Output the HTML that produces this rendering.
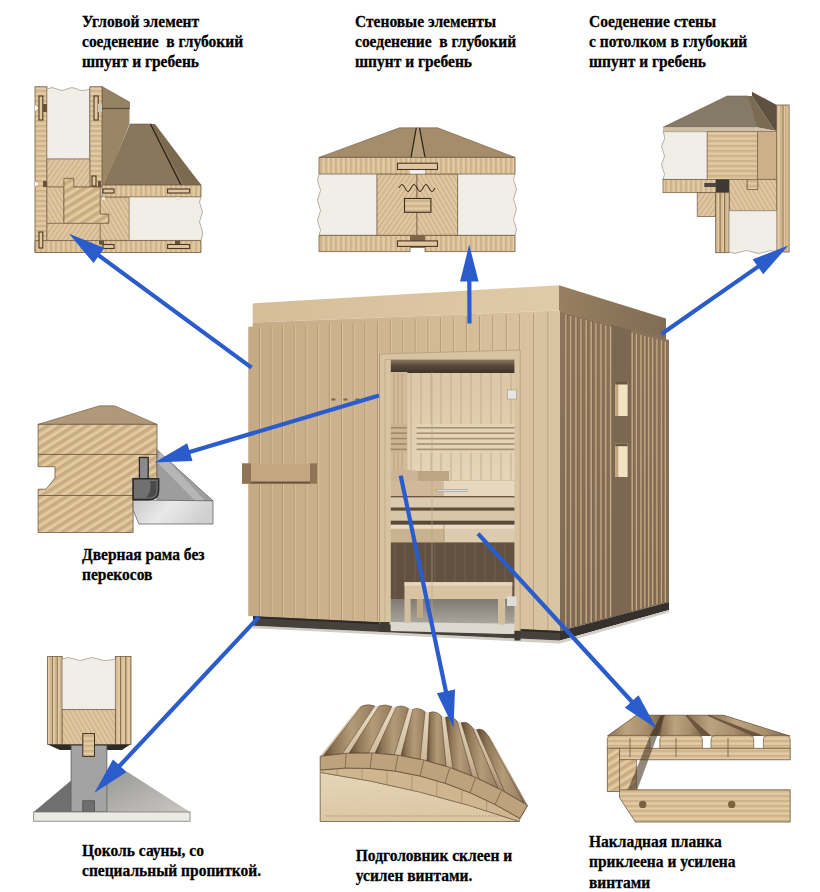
<!DOCTYPE html>
<html><head><meta charset="utf-8"><style>
html,body{margin:0;padding:0;background:#fff;}
body{width:820px;height:892px;overflow:hidden;}
svg{display:block;}
.t{font-family:"Liberation Serif",serif;font-weight:bold;font-size:15.5px;fill:#000;stroke:#000;stroke-width:0.25px;}
</style></head><body>
<svg width="820" height="892" viewBox="0 0 820 892">
<defs>
<pattern id="wv" width="5" height="10" patternUnits="userSpaceOnUse">
 <rect width="5" height="10" fill="#dac099"/><rect width="1.6" height="10" fill="#ceb188"/><rect x="3" width="1.4" height="10" fill="#e3cca6"/>
</pattern>
<pattern id="wh" width="10" height="5" patternUnits="userSpaceOnUse">
 <rect width="10" height="5" fill="#dac099"/><rect height="1.6" width="10" fill="#ceb188"/><rect y="3" height="1.4" width="10" fill="#e3cca6"/>
</pattern>
<pattern id="wd" width="4" height="4" patternUnits="userSpaceOnUse" patternTransform="rotate(35)">
 <rect width="4" height="4" fill="#dbc19b"/><rect width="1.3" height="4" fill="#cfb28a"/><rect x="2.5" width="1" height="4" fill="#e5cfab"/>
</pattern>
<pattern id="wd2" width="4" height="4" patternUnits="userSpaceOnUse" patternTransform="rotate(-30)">
 <rect width="4" height="4" fill="#dbc19b"/><rect width="1.3" height="4" fill="#cfb28a"/><rect x="2.5" width="1" height="4" fill="#e5cfab"/>
</pattern>
<pattern id="wd3" width="7" height="7" patternUnits="userSpaceOnUse" patternTransform="rotate(58)">
 <rect width="7" height="7" fill="#d6ba90"/><rect width="2.4" height="7" fill="#c8aa7e"/><rect x="4" width="2.2" height="7" fill="#e4cca5"/>
</pattern>
</defs>
<defs><linearGradient id="fwall" x1="0" y1="0" x2="1" y2="0"><stop offset="0" stop-color="#c6aa86"/><stop offset="0.5" stop-color="#d0b793"/><stop offset="1" stop-color="#dac5a2"/></linearGradient>
<linearGradient id="froof" x1="0" y1="0" x2="1" y2="0"><stop offset="0" stop-color="#d5bd99"/><stop offset="1" stop-color="#e0cba8"/></linearGradient>
<linearGradient id="sroof" x1="0" y1="0" x2="1" y2="0"><stop offset="0" stop-color="#97805f"/><stop offset="1" stop-color="#806c55"/></linearGradient>
<linearGradient id="swall" x1="0" y1="0" x2="0" y2="1"><stop offset="0" stop-color="#8c755b"/><stop offset="1" stop-color="#7f6a54"/></linearGradient>
<linearGradient id="ceil" x1="0" y1="0" x2="0" y2="1"><stop offset="0" stop-color="#8c7862"/><stop offset="0.45" stop-color="#5a4a3c"/><stop offset="1" stop-color="#3d3329"/></linearGradient>
<linearGradient id="bwall" x1="0" y1="0" x2="0" y2="1"><stop offset="0" stop-color="#dcc7a6"/><stop offset="1" stop-color="#e6d5b9"/></linearGradient>
</defs>
<polygon points="252.7,303.4 559.0,285.2 559.0,310.5 252.7,322.5" fill="url(#froof)" />
<polygon points="559.0,285.2 666.0,318.5 666.0,340.0 559.0,311.0" fill="url(#sroof)" />
<polygon points="560.0,311.0 669.0,340.0 669.0,602.0 560.0,631.0" fill="url(#swall)" />
<polygon points="611.5,324.8 631.5,330.2 631.5,612.0 611.5,617.3" fill="#7b6752" />
<line x1="565.9" y1="314.6" x2="565.9" y2="628.4" stroke="#c4a883" stroke-width="1.5" />
<line x1="567.2" y1="314.6" x2="567.2" y2="628.4" stroke="#78604a" stroke-width="0.5" />
<line x1="570.7" y1="315.9" x2="570.7" y2="627.2" stroke="#c4a883" stroke-width="1.5" />
<line x1="572.0" y1="315.9" x2="572.0" y2="627.2" stroke="#78604a" stroke-width="0.5" />
<line x1="576.0" y1="317.3" x2="576.0" y2="625.7" stroke="#c4a883" stroke-width="1.5" />
<line x1="577.3" y1="317.3" x2="577.3" y2="625.7" stroke="#78604a" stroke-width="0.5" />
<line x1="581.0" y1="318.7" x2="581.0" y2="624.4" stroke="#c4a883" stroke-width="1.5" />
<line x1="582.3" y1="318.7" x2="582.3" y2="624.4" stroke="#78604a" stroke-width="0.5" />
<line x1="586.3" y1="320.1" x2="586.3" y2="623.0" stroke="#c4a883" stroke-width="1.5" />
<line x1="587.6" y1="320.1" x2="587.6" y2="623.0" stroke="#78604a" stroke-width="0.5" />
<line x1="591.2" y1="321.4" x2="591.2" y2="621.7" stroke="#c4a883" stroke-width="1.5" />
<line x1="592.5" y1="321.4" x2="592.5" y2="621.7" stroke="#78604a" stroke-width="0.5" />
<line x1="596.0" y1="322.7" x2="596.0" y2="620.4" stroke="#c4a883" stroke-width="1.5" />
<line x1="597.3" y1="322.7" x2="597.3" y2="620.4" stroke="#78604a" stroke-width="0.5" />
<line x1="601.0" y1="324.1" x2="601.0" y2="619.1" stroke="#c4a883" stroke-width="1.5" />
<line x1="602.3" y1="324.1" x2="602.3" y2="619.1" stroke="#78604a" stroke-width="0.5" />
<line x1="605.9" y1="325.4" x2="605.9" y2="617.8" stroke="#c4a883" stroke-width="1.5" />
<line x1="607.2" y1="325.4" x2="607.2" y2="617.8" stroke="#78604a" stroke-width="0.5" />
<line x1="610.7" y1="326.7" x2="610.7" y2="616.5" stroke="#c4a883" stroke-width="1.5" />
<line x1="612.0" y1="326.7" x2="612.0" y2="616.5" stroke="#78604a" stroke-width="0.5" />
<line x1="632.2" y1="332.5" x2="632.2" y2="610.8" stroke="#c4a883" stroke-width="1.5" />
<line x1="633.5" y1="332.5" x2="633.5" y2="610.8" stroke="#78604a" stroke-width="0.5" />
<line x1="636.5" y1="333.7" x2="636.5" y2="609.7" stroke="#c4a883" stroke-width="1.5" />
<line x1="637.8" y1="333.7" x2="637.8" y2="609.7" stroke="#78604a" stroke-width="0.5" />
<line x1="641.0" y1="334.9" x2="641.0" y2="608.5" stroke="#c4a883" stroke-width="1.5" />
<line x1="642.3" y1="334.9" x2="642.3" y2="608.5" stroke="#78604a" stroke-width="0.5" />
<line x1="644.9" y1="335.9" x2="644.9" y2="607.4" stroke="#c4a883" stroke-width="1.5" />
<line x1="646.2" y1="335.9" x2="646.2" y2="607.4" stroke="#78604a" stroke-width="0.5" />
<line x1="648.8" y1="337.0" x2="648.8" y2="606.4" stroke="#c4a883" stroke-width="1.5" />
<line x1="650.1" y1="337.0" x2="650.1" y2="606.4" stroke="#78604a" stroke-width="0.5" />
<line x1="652.7" y1="338.0" x2="652.7" y2="605.3" stroke="#c4a883" stroke-width="1.5" />
<line x1="654.0" y1="338.0" x2="654.0" y2="605.3" stroke="#78604a" stroke-width="0.5" />
<line x1="657.0" y1="339.2" x2="657.0" y2="604.2" stroke="#c4a883" stroke-width="1.5" />
<line x1="658.3" y1="339.2" x2="658.3" y2="604.2" stroke="#78604a" stroke-width="0.5" />
<line x1="661.5" y1="340.4" x2="661.5" y2="603.0" stroke="#c4a883" stroke-width="1.5" />
<line x1="662.8" y1="340.4" x2="662.8" y2="603.0" stroke="#78604a" stroke-width="0.5" />
<line x1="665.4" y1="341.5" x2="665.4" y2="602.0" stroke="#c4a883" stroke-width="1.5" />
<line x1="666.7" y1="341.5" x2="666.7" y2="602.0" stroke="#78604a" stroke-width="0.5" />
<rect x="615.3" y="382.0" width="12.3" height="34.0" fill="#f1e2c4" />
<rect x="615.3" y="382.0" width="3.0" height="34.0" fill="#c4a57e" />
<rect x="615.3" y="382.0" width="12.3" height="2.5" fill="#6b563f" />
<rect x="615.3" y="443.7" width="12.3" height="33.3" fill="#f1e2c4" />
<rect x="615.3" y="443.7" width="3.0" height="33.3" fill="#c4a57e" />
<rect x="615.3" y="443.7" width="12.3" height="2.5" fill="#6b563f" />
<polygon points="560.0,631.0 669.0,602.0 669.0,610.0 560.0,640.6" fill="#36312c" />
<polygon points="248.2,326.8 252.7,326.6 252.7,322.5 559.0,310.5 560.0,311.0 560.0,631.0 248.2,616.0" fill="url(#fwall)" />
<line x1="259.5" y1="327.2" x2="259.5" y2="616.5" stroke="#b0936d" stroke-width="0.9" />
<line x1="260.5" y1="327.2" x2="260.5" y2="616.5" stroke="#e2cdaa" stroke-width="0.7" />
<line x1="271.2" y1="326.6" x2="271.2" y2="617.1" stroke="#b0936d" stroke-width="0.9" />
<line x1="272.2" y1="326.6" x2="272.2" y2="617.1" stroke="#e2cdaa" stroke-width="0.7" />
<line x1="282.5" y1="326.1" x2="282.5" y2="617.7" stroke="#b0936d" stroke-width="0.9" />
<line x1="283.5" y1="326.1" x2="283.5" y2="617.7" stroke="#e2cdaa" stroke-width="0.7" />
<line x1="294.2" y1="325.5" x2="294.2" y2="618.2" stroke="#b0936d" stroke-width="0.9" />
<line x1="295.2" y1="325.5" x2="295.2" y2="618.2" stroke="#e2cdaa" stroke-width="0.7" />
<line x1="306.0" y1="324.9" x2="306.0" y2="618.8" stroke="#b0936d" stroke-width="0.9" />
<line x1="307.0" y1="324.9" x2="307.0" y2="618.8" stroke="#e2cdaa" stroke-width="0.7" />
<line x1="317.7" y1="324.3" x2="317.7" y2="619.3" stroke="#b0936d" stroke-width="0.9" />
<line x1="318.7" y1="324.3" x2="318.7" y2="619.3" stroke="#e2cdaa" stroke-width="0.7" />
<line x1="329.4" y1="323.7" x2="329.4" y2="619.9" stroke="#b0936d" stroke-width="0.9" />
<line x1="330.4" y1="323.7" x2="330.4" y2="619.9" stroke="#e2cdaa" stroke-width="0.7" />
<line x1="341.5" y1="323.1" x2="341.5" y2="620.5" stroke="#b0936d" stroke-width="0.9" />
<line x1="342.5" y1="323.1" x2="342.5" y2="620.5" stroke="#e2cdaa" stroke-width="0.7" />
<line x1="353.2" y1="322.5" x2="353.2" y2="621.1" stroke="#b0936d" stroke-width="0.9" />
<line x1="354.2" y1="322.5" x2="354.2" y2="621.1" stroke="#e2cdaa" stroke-width="0.7" />
<line x1="364.9" y1="321.9" x2="364.9" y2="621.6" stroke="#b0936d" stroke-width="0.9" />
<line x1="365.9" y1="321.9" x2="365.9" y2="621.6" stroke="#e2cdaa" stroke-width="0.7" />
<line x1="377.6" y1="321.2" x2="377.6" y2="622.2" stroke="#b0936d" stroke-width="0.9" />
<line x1="378.6" y1="321.2" x2="378.6" y2="622.2" stroke="#e2cdaa" stroke-width="0.7" />
<line x1="390.3" y1="320.6" x2="390.3" y2="622.8" stroke="#b0936d" stroke-width="0.9" />
<line x1="391.3" y1="320.6" x2="391.3" y2="622.8" stroke="#e2cdaa" stroke-width="0.7" />
<line x1="402.7" y1="320.0" x2="402.7" y2="623.4" stroke="#b0936d" stroke-width="0.9" />
<line x1="403.7" y1="320.0" x2="403.7" y2="623.4" stroke="#e2cdaa" stroke-width="0.7" />
<line x1="415.2" y1="319.3" x2="415.2" y2="624.0" stroke="#b0936d" stroke-width="0.9" />
<line x1="416.2" y1="319.3" x2="416.2" y2="624.0" stroke="#e2cdaa" stroke-width="0.7" />
<line x1="428.0" y1="318.7" x2="428.0" y2="624.6" stroke="#b0936d" stroke-width="0.9" />
<line x1="429.0" y1="318.7" x2="429.0" y2="624.6" stroke="#e2cdaa" stroke-width="0.7" />
<line x1="440.7" y1="318.0" x2="440.7" y2="625.3" stroke="#b0936d" stroke-width="0.9" />
<line x1="441.7" y1="318.0" x2="441.7" y2="625.3" stroke="#e2cdaa" stroke-width="0.7" />
<line x1="453.7" y1="317.4" x2="453.7" y2="625.9" stroke="#b0936d" stroke-width="0.9" />
<line x1="454.7" y1="317.4" x2="454.7" y2="625.9" stroke="#e2cdaa" stroke-width="0.7" />
<line x1="466.4" y1="316.7" x2="466.4" y2="626.5" stroke="#b0936d" stroke-width="0.9" />
<line x1="467.4" y1="316.7" x2="467.4" y2="626.5" stroke="#e2cdaa" stroke-width="0.7" />
<line x1="479.6" y1="316.1" x2="479.6" y2="627.1" stroke="#b0936d" stroke-width="0.9" />
<line x1="480.6" y1="316.1" x2="480.6" y2="627.1" stroke="#e2cdaa" stroke-width="0.7" />
<line x1="492.8" y1="315.4" x2="492.8" y2="627.8" stroke="#b0936d" stroke-width="0.9" />
<line x1="493.8" y1="315.4" x2="493.8" y2="627.8" stroke="#e2cdaa" stroke-width="0.7" />
<line x1="506.3" y1="314.7" x2="506.3" y2="628.4" stroke="#b0936d" stroke-width="0.9" />
<line x1="507.3" y1="314.7" x2="507.3" y2="628.4" stroke="#e2cdaa" stroke-width="0.7" />
<line x1="519.7" y1="314.0" x2="519.7" y2="629.1" stroke="#b0936d" stroke-width="0.9" />
<line x1="520.7" y1="314.0" x2="520.7" y2="629.1" stroke="#e2cdaa" stroke-width="0.7" />
<line x1="533.6" y1="313.3" x2="533.6" y2="629.7" stroke="#b0936d" stroke-width="0.9" />
<line x1="534.6" y1="313.3" x2="534.6" y2="629.7" stroke="#e2cdaa" stroke-width="0.7" />
<line x1="548.0" y1="312.6" x2="548.0" y2="630.4" stroke="#b0936d" stroke-width="0.9" />
<line x1="549.0" y1="312.6" x2="549.0" y2="630.4" stroke="#e2cdaa" stroke-width="0.7" />
<rect x="331.4" y="398.5" width="4.0" height="2.0" fill="#7d6446" />
<rect x="343.4" y="398.5" width="4.0" height="2.0" fill="#7d6446" />
<rect x="355.4" y="398.5" width="4.0" height="2.0" fill="#7d6446" />
<polygon points="253.0,625.6 560.0,640.6 669.0,610.0 669.0,612.5 560.0,643.5 253.0,628.3" fill="#d2cec6" />
<polygon points="253.0,616.2 560.0,631.0 560.0,640.6 253.0,625.6" fill="#46413b" />
<polygon points="253.0,616.2 560.0,631.0 560.0,633.0 253.0,618.2" fill="#2e2a26" />
<polygon points="379.5,354.0 520.2,350.0 520.2,631.5 379.5,624.0" fill="#d9c4a2" />
<line x1="379.5" y1="354.0" x2="520.2" y2="350.0" stroke="#b89d78" stroke-width="0.8" />
<line x1="379.5" y1="354.0" x2="379.5" y2="624.0" stroke="#a8906c" stroke-width="0.8" />
<line x1="520.2" y1="350.0" x2="520.2" y2="631.0" stroke="#b59a75" stroke-width="0.8" />
<polygon points="390.8,357.6 514.4,357.6 514.4,634.0 390.8,630.0" fill="#d6c2a0" />
<rect x="390.8" y="359.5" width="123.6" height="13.5" fill="url(#ceil)" />
<rect x="407.4" y="373.0" width="107.0" height="107.0" fill="url(#bwall)" />
<line x1="385.0" y1="359.5" x2="514.4" y2="359.5" stroke="#bba482" stroke-width="0.8" />
<line x1="385.0" y1="359.5" x2="385.0" y2="624.0" stroke="#bba482" stroke-width="0.8" />
<line x1="411.0" y1="373.0" x2="411.0" y2="480.0" stroke="#c2aa86" stroke-width="0.9" />
<line x1="421.0" y1="373.0" x2="421.0" y2="480.0" stroke="#c2aa86" stroke-width="0.9" />
<line x1="431.0" y1="373.0" x2="431.0" y2="480.0" stroke="#c2aa86" stroke-width="0.9" />
<line x1="441.0" y1="373.0" x2="441.0" y2="480.0" stroke="#c2aa86" stroke-width="0.9" />
<line x1="451.0" y1="373.0" x2="451.0" y2="480.0" stroke="#c2aa86" stroke-width="0.9" />
<line x1="461.0" y1="373.0" x2="461.0" y2="480.0" stroke="#c2aa86" stroke-width="0.9" />
<line x1="471.0" y1="373.0" x2="471.0" y2="480.0" stroke="#c2aa86" stroke-width="0.9" />
<line x1="481.0" y1="373.0" x2="481.0" y2="480.0" stroke="#c2aa86" stroke-width="0.9" />
<line x1="491.0" y1="373.0" x2="491.0" y2="480.0" stroke="#c2aa86" stroke-width="0.9" />
<line x1="501.0" y1="373.0" x2="501.0" y2="480.0" stroke="#c2aa86" stroke-width="0.9" />
<line x1="511.0" y1="373.0" x2="511.0" y2="480.0" stroke="#c2aa86" stroke-width="0.9" />
<rect x="390.8" y="372.0" width="16.6" height="108.0" fill="#d2bb98" />
<line x1="394.0" y1="373.0" x2="394.0" y2="480.0" stroke="#b59c78" stroke-width="0.7" />
<line x1="398.0" y1="373.0" x2="398.0" y2="480.0" stroke="#b59c78" stroke-width="0.7" />
<line x1="402.0" y1="373.0" x2="402.0" y2="480.0" stroke="#b59c78" stroke-width="0.7" />
<rect x="416.6" y="424.0" width="97.8" height="29.0" fill="#e4d3b6" />
<rect x="416.6" y="427.0" width="97.8" height="1.6" fill="#a99070" />
<rect x="416.6" y="432.4" width="97.8" height="1.6" fill="#a99070" />
<rect x="416.6" y="437.8" width="97.8" height="1.6" fill="#a99070" />
<rect x="416.6" y="443.2" width="97.8" height="1.6" fill="#a99070" />
<rect x="416.6" y="448.6" width="97.8" height="1.6" fill="#a99070" />
<rect x="390.8" y="424.0" width="16.0" height="29.0" fill="#ccb491" />
<rect x="390.8" y="427.0" width="16.0" height="1.5" fill="#9e8666" />
<rect x="390.8" y="432.4" width="16.0" height="1.5" fill="#9e8666" />
<rect x="390.8" y="437.8" width="16.0" height="1.5" fill="#9e8666" />
<rect x="390.8" y="443.2" width="16.0" height="1.5" fill="#9e8666" />
<rect x="390.8" y="448.6" width="16.0" height="1.5" fill="#9e8666" />
<rect x="507.5" y="390.0" width="9.0" height="9.0" fill="#e8e6e2" stroke="#9a9890" stroke-width="0.6" />
<path d="M390.8,481 L390.8,470 Q400,468 418,471 L449,472 L449,481 Z" fill="#cbb594"/>
<rect x="418.0" y="471.0" width="31.0" height="10.0" fill="#bca582" />
<rect x="390.8" y="481.0" width="123.6" height="15.0" fill="#e6d8bf" />
<rect x="390.8" y="481.0" width="53.0" height="15.0" fill="#cfb998" />
<rect x="390.8" y="496.0" width="123.6" height="1.6" fill="#6a5846" />
<rect x="390.8" y="497.6" width="123.6" height="9.9" fill="#dccbb0" />
<rect x="390.8" y="507.5" width="123.6" height="3.3" fill="#5e4e3e" />
<rect x="390.8" y="510.8" width="123.6" height="9.9" fill="#d8c6a9" />
<rect x="390.8" y="520.7" width="123.6" height="4.1" fill="#5a4a3b" />
<rect x="390.8" y="524.8" width="123.6" height="4.1" fill="#eadcc4" />
<rect x="390.8" y="528.9" width="123.6" height="13.5" fill="#dccbae" />
<rect x="390.8" y="528.9" width="53.0" height="13.5" fill="#c8b28f" />
<line x1="444.0" y1="524.8" x2="444.0" y2="542.4" stroke="#a58d6c" stroke-width="0.8" />
<rect x="436.9" y="489.3" width="30.4" height="2.4" fill="#dcdcdc" stroke="#8a8a8a" stroke-width="0.5" />
<rect x="390.8" y="542.4" width="123.6" height="57.0" fill="#625140" />
<line x1="395.0" y1="543.0" x2="395.0" y2="598.0" stroke="#76624e" stroke-width="0.9" />
<line x1="405.0" y1="543.0" x2="405.0" y2="598.0" stroke="#76624e" stroke-width="0.9" />
<line x1="415.0" y1="543.0" x2="415.0" y2="598.0" stroke="#76624e" stroke-width="0.9" />
<line x1="425.0" y1="543.0" x2="425.0" y2="598.0" stroke="#76624e" stroke-width="0.9" />
<line x1="435.0" y1="543.0" x2="435.0" y2="598.0" stroke="#76624e" stroke-width="0.9" />
<line x1="445.0" y1="543.0" x2="445.0" y2="598.0" stroke="#76624e" stroke-width="0.9" />
<line x1="455.0" y1="543.0" x2="455.0" y2="598.0" stroke="#76624e" stroke-width="0.9" />
<line x1="465.0" y1="543.0" x2="465.0" y2="598.0" stroke="#76624e" stroke-width="0.9" />
<line x1="475.0" y1="543.0" x2="475.0" y2="598.0" stroke="#76624e" stroke-width="0.9" />
<line x1="485.0" y1="543.0" x2="485.0" y2="598.0" stroke="#76624e" stroke-width="0.9" />
<line x1="495.0" y1="543.0" x2="495.0" y2="598.0" stroke="#76624e" stroke-width="0.9" />
<line x1="505.0" y1="543.0" x2="505.0" y2="598.0" stroke="#76624e" stroke-width="0.9" />
<defs><linearGradient id="flr" x1="0" y1="0" x2="0" y2="1"><stop offset="0" stop-color="#7f7a73"/><stop offset="1" stop-color="#aaa59d"/></linearGradient></defs>
<rect x="390.8" y="599.0" width="123.6" height="24.7" fill="url(#flr)" />
<polygon points="390.8,622.0 514.4,623.7 514.4,634.0 390.8,631.0" fill="#ddd9d1" />
<rect x="404.5" y="582.2" width="107.8" height="16.8" fill="#d8c4a3" />
<rect x="404.5" y="582.2" width="107.8" height="3.5" fill="#e6d6bb" />
<rect x="404.5" y="599.0" width="6.1" height="23.8" fill="#d3bf9d" />
<rect x="416.8" y="599.0" width="6.2" height="19.0" fill="#bfa987" />
<rect x="498.0" y="599.0" width="7.2" height="25.6" fill="#d3bf9d" />
<rect x="507.0" y="596.3" width="9.7" height="9.7" fill="#e0ddd8" />
<line x1="432.0" y1="372.0" x2="432.0" y2="623.0" stroke="#b8a484" stroke-width="0.6" />
<rect x="379.5" y="622.0" width="10.0" height="10.0" fill="#3f3a34" />
<rect x="514.5" y="630.8" width="6.0" height="9.7" fill="#3f3a34" />
<polygon points="242.0,463.4 317.0,463.4 317.0,483.7 242.0,483.7" fill="#c4a780" />
<rect x="242.0" y="463.4" width="9.0" height="20.3" fill="#8f7456" />
<rect x="310.0" y="463.4" width="7.0" height="20.3" fill="#8f7456" />
<rect x="251.0" y="481.5" width="59.0" height="2.2" fill="#6d573e" />
<polygon points="102.0,86.5 129.5,102.0 129.5,108.5 102.0,108.5" fill="#958264" stroke="#6f5a40" stroke-width="0.6" />
<polygon points="102.0,108.5 129.5,108.5 129.5,124.0 105.0,186.0 102.0,186.0" fill="#9a8565" />
<line x1="102.0" y1="108.5" x2="129.5" y2="108.5" stroke="#5a4a36" stroke-width="1.2" />
<polygon points="130.3,124.0 151.5,124.0 201.0,185.0 105.0,185.0" fill="#8a775b" stroke="#6f5a40" stroke-width="0.6" />
<polygon points="151.5,124.0 155.0,124.0 201.0,185.0 184.0,185.0" fill="#7c6a50" />
<line x1="150.5" y1="124.0" x2="181.0" y2="185.0" stroke="#2d2418" stroke-width="1.4" />
<polygon points="35.0,86.7 47.0,86.7 47.0,252.3 35.0,252.3" fill="url(#wh)" stroke="#6f5a40" stroke-width="0.8" />
<path d="M47,89 q5,-3 10,0 t10,0 t10,0 t12.8,0 L89.8,159 L47,159 Z" fill="#f1eee7" stroke="#8d8170" stroke-width="0.6"/>
<polygon points="89.8,86.7 102.0,86.7 102.0,187.0 89.8,187.0" fill="url(#wh)" stroke="#6f5a40" stroke-width="0.8" />
<polygon points="47.0,159.0 89.8,159.0 89.8,187.0 47.0,187.0" fill="url(#wd)" stroke="#6f5a40" stroke-width="0.6" />
<polygon points="47.0,187.0 63.9,187.0 63.9,223.4 47.0,223.4" fill="url(#wd2)" stroke="#6f5a40" stroke-width="0.6" />
<polygon points="63.9,178.4 73.8,178.4 73.8,187.0 100.3,187.0 100.3,196.9 100.3,214.0 108.9,214.0 108.9,223.4 63.9,223.4" fill="url(#wd3)" stroke="#6f5a40" stroke-width="0.8" />
<polygon points="47.0,223.4 100.3,223.4 100.3,240.6 47.0,240.6" fill="url(#wd)" stroke="#6f5a40" stroke-width="0.6" />
<polygon points="100.3,196.9 129.3,196.9 129.3,240.4 100.3,240.4 100.3,223.4 108.9,223.4 108.9,214.0 100.3,214.0" fill="url(#wd2)" stroke="#6f5a40" stroke-width="0.6" />
<polygon points="102.0,185.0 201.0,185.0 201.0,197.0 102.0,197.0" fill="url(#wv)" stroke="#6f5a40" stroke-width="0.8" />
<path d="M129.3,197 L201,197 q-3,5 0,10 t0,10 t0,10 t0,13.4 L129.3,240.4 Z" fill="#f1eee7" stroke="#8d8170" stroke-width="0.6"/>
<polygon points="35.0,240.6 201.0,240.6 201.0,252.5 35.0,252.5" fill="url(#wv)" stroke="#6f5a40" stroke-width="0.8" />
<rect x="39.0" y="96.0" width="3.8" height="24.0" fill="#e0c7a0" stroke="#4a3725" stroke-width="1.1" />
<rect x="94.0" y="96.0" width="4.2" height="24.0" fill="#e0c7a0" stroke="#4a3725" stroke-width="1.1" />
<rect x="39.0" y="232.0" width="3.8" height="16.0" fill="#e0c7a0" stroke="#4a3725" stroke-width="1.1" />
<rect x="92.0" y="176.0" width="4.0" height="10.0" fill="#e0c7a0" stroke="#4a3725" stroke-width="1.1" />
<polygon points="35.0,105.0 38.5,108.0 35.0,111.0" fill="#ffffff" />
<polygon points="35.0,181.5 38.5,184.0 35.0,186.6" fill="#ffffff" />
<rect x="43.0" y="104.0" width="4.0" height="8.0" fill="#6b5038" />
<rect x="43.0" y="181.0" width="4.0" height="6.0" fill="#6b5038" />
<rect x="98.0" y="104.0" width="4.0" height="8.0" fill="#cfc6b8" />
<rect x="98.0" y="181.0" width="3.0" height="6.0" fill="#6b5038" />
<rect x="99.0" y="240.6" width="5.0" height="4.0" fill="#6b5038" />
<rect x="175.0" y="240.6" width="5.0" height="4.0" fill="#6b5038" />
<rect x="102.0" y="197.0" width="3.0" height="3.0" fill="#e8e4dc" />
<rect x="176.0" y="197.0" width="4.0" height="3.0" fill="#e8e4dc" />
<rect x="167.6" y="189.0" width="22.0" height="4.0" fill="#e0c7a0" stroke="#4a3725" stroke-width="1.1" />
<rect x="103.0" y="189.0" width="11.0" height="4.0" fill="#e0c7a0" stroke="#4a3725" stroke-width="1.1" />
<rect x="167.6" y="244.5" width="22.0" height="4.0" fill="#e0c7a0" stroke="#4a3725" stroke-width="1.1" />
<rect x="103.0" y="244.5" width="11.0" height="4.0" fill="#e0c7a0" stroke="#4a3725" stroke-width="1.1" />
<polygon points="399.5,127.8 437.5,127.8 515.0,157.4 319.0,157.4" fill="#a58c6b" stroke="#6f5a40" stroke-width="0.6" />
<polygon points="416.3,127.8 419.5,127.8 425.0,157.4 411.0,157.4" fill="#b39c7a" />
<line x1="416.3" y1="127.8" x2="411.0" y2="157.4" stroke="#2d2418" stroke-width="1.2" />
<line x1="419.5" y1="127.8" x2="425.0" y2="157.4" stroke="#2d2418" stroke-width="1.2" />
<polygon points="319.0,157.4 515.0,157.4 515.0,174.2 319.0,174.2" fill="url(#wv)" stroke="#6f5a40" stroke-width="0.8" />
<polygon points="410.0,169.5 425.0,169.5 425.0,174.5 410.0,174.5" fill="#f4f2ee" />
<rect x="397.5" y="163.2" width="40.0" height="6.3" fill="#e0c7a0" stroke="#4a3725" stroke-width="1.1" />
<path d="M319,174.2 L377,174.2 L377,235.4 L319,235.4 q3,-5 0,-10 t0,-10 t0,-10 t0,-10 t0,-10 t0,-11.2 Z" fill="#f1eee7" stroke="#8d8170" stroke-width="0.6"/>
<path d="M457.6,174.2 L515,174.2 q-3,5 0,10 t0,10 t0,10 t0,10 t0,10 t0,11.2 L457.6,235.4 Z" fill="#f1eee7" stroke="#8d8170" stroke-width="0.6"/>
<polygon points="377.0,174.2 417.0,174.2 417.0,235.4 377.0,235.4" fill="url(#wd)" stroke="#6f5a40" stroke-width="0.7" />
<polygon points="417.0,174.2 457.6,174.2 457.6,235.4 417.0,235.4" fill="url(#wd2)" stroke="#6f5a40" stroke-width="0.7" />
<path d="M399,188 q3,-7 6,0 t6,0 t6,0 t6,0 t6,0 t6,0" fill="none" stroke="#2a2015" stroke-width="1"/>
<rect x="404.5" y="198.5" width="26.4" height="13.8" fill="url(#wh)" stroke="#3d2f20" stroke-width="1.1" />
<polygon points="319.0,235.4 515.0,235.4 515.0,251.6 425.0,251.6 425.0,247.5 410.0,247.5 410.0,251.6 319.0,251.6" fill="url(#wv)" stroke="#6f5a40" stroke-width="0.8" />
<rect x="410.0" y="235.4" width="15.0" height="5.5" fill="#7d6548" />
<rect x="397.5" y="240.9" width="40.0" height="5.5" fill="#e0c7a0" stroke="#4a3725" stroke-width="1.1" />
<polygon points="727.2,96.0 748.2,96.0 756.7,127.3 663.0,127.3" fill="#857a68" stroke="#6f5a40" stroke-width="0.6" />
<polygon points="748.2,96.0 752.0,96.0 774.8,130.8 756.7,127.3" fill="#7a6a52" />
<polygon points="752.0,91.7 776.7,105.0 776.7,131.0 774.8,130.8 752.0,96.0" fill="#5f5140" />
<polygon points="663.0,127.3 756.7,127.3 756.7,131.7 663.0,131.7" fill="#cfc0a6" />
<rect x="776.7" y="105.0" width="12.4" height="147.0" fill="url(#wv)" stroke="#6f5a40" stroke-width="0.8" />
<polygon points="756.7,127.3 776.7,131.0 776.7,131.7 756.7,131.7" fill="#cfc0a6" />
<line x1="783.0" y1="105.0" x2="783.0" y2="252.0" stroke="#6f5a40" stroke-width="0.8" />
<path d="M663,131.7 L707.2,131.7 L707.2,179.4 L663,179.4 q3,-5 0,-10 t0,-9 t0,-9 t0,-9 t0,-10.7 Z" fill="#f1eee7" stroke="#8d8170" stroke-width="0.6"/>
<rect x="707.2" y="131.7" width="50.5" height="47.7" fill="url(#wh)" stroke="#6f5a40" stroke-width="0.6" />
<rect x="757.7" y="131.7" width="19.0" height="47.7" fill="#cdb08a" stroke="#6f5a40" stroke-width="0.6" />
<polygon points="729.1,179.4 747.2,179.4 747.2,189.5 757.7,189.5 757.7,179.4 776.7,179.4 776.7,210.8 729.1,210.8" fill="url(#wd2)" stroke="#6f5a40" stroke-width="0.7" />
<polygon points="747.2,179.4 757.7,179.4 757.7,189.5 747.2,189.5" fill="url(#wh)" stroke="#6f5a40" stroke-width="0.7" />
<rect x="663.0" y="179.4" width="65.1" height="13.3" fill="url(#wv)" stroke="#6f5a40" stroke-width="0.7" />
<rect x="715.7" y="179.4" width="13.4" height="13.0" fill="#3e3a33" />
<rect x="704.3" y="183.0" width="12.0" height="4.0" fill="#4a4640" />
<rect x="697.2" y="192.7" width="18.5" height="23.8" fill="url(#wd)" stroke="#6f5a40" stroke-width="0.7" />
<rect x="715.7" y="192.7" width="13.4" height="60.0" fill="url(#wv)" stroke="#6f5a40" stroke-width="0.8" />
<line x1="720.0" y1="192.7" x2="720.0" y2="252.6" stroke="#6f5a40" stroke-width="0.8" />
<line x1="724.5" y1="192.7" x2="724.5" y2="252.6" stroke="#6f5a40" stroke-width="0.8" />
<path d="M729.1,210.8 L776.7,210.8 L776.7,252 q-6,-3 -12,0 t-12,0 t-12,0 t-11.6,0 Z" fill="#f1eee7" stroke="#8d8170" stroke-width="0.6"/>
<polygon points="99.5,405.8 114.6,405.8 157.0,424.3 38.1,424.3" fill="#b09978" stroke="#6f5a40" stroke-width="0.6" />
<rect x="38.1" y="424.3" width="118.9" height="30.1" fill="url(#wd3)" stroke="#6f5a40" stroke-width="0.8" />
<polygon points="38.1,454.4 157.0,454.4 157.0,478.8 133.1,478.8 133.1,495.5 38.1,495.5 38.1,489.2 46.0,489.2 55.0,478.0 55.0,466.7 38.1,466.7" fill="url(#wd3)" stroke="#6f5a40" stroke-width="0.8" />
<polygon points="38.1,495.5 133.1,495.5 133.1,532.5 38.1,532.5" fill="url(#wd3)" stroke="#6f5a40" stroke-width="0.8" />
<polygon points="157.0,449.8 213.0,500.8 157.0,500.8" fill="#9d9d9d" stroke="#555" stroke-width="0.6" />
<polygon points="160.0,452.0 205.0,500.8 195.0,500.8 157.0,462.0" fill="#b6b6b6" />
<defs><linearGradient id="alu" x1="0" y1="0" x2="1" y2="0.3"><stop offset="0" stop-color="#c9c9c9"/><stop offset="0.5" stop-color="#e9e9e9"/><stop offset="1" stop-color="#d0d0d0"/></linearGradient></defs>
<polygon points="133.1,500.0 213.0,500.8 213.0,524.0 138.9,524.0 133.1,510.0" fill="url(#alu)" stroke="#555" stroke-width="0.7" />
<rect x="139.4" y="457.5" width="8.8" height="22.0" fill="#8a8a8a" stroke="#2a2a2a" stroke-width="1.3" />
<path d="M133.1,478.8 L158.6,478.8 L158.6,490 Q158.6,499.6 149,499.6 L133.1,499.6 Z" fill="#707070" stroke="#2a2a2a" stroke-width="1.6"/>
<path d="M150,481 L156.5,481 L156.5,490 Q156.5,497.5 149,497.5 L146,497.5 Q152,492 150,481 Z" fill="#4a4a4a"/>
<rect x="47.6" y="656.6" width="14.6" height="88.0" fill="url(#wv)" stroke="#6f5a40" stroke-width="0.8" />
<rect x="115.3" y="656.6" width="15.7" height="88.0" fill="url(#wv)" stroke="#6f5a40" stroke-width="0.8" />
<line x1="52.5" y1="656.6" x2="52.5" y2="744.6" stroke="#6f5a40" stroke-width="0.7" />
<line x1="57.3" y1="656.6" x2="57.3" y2="744.6" stroke="#6f5a40" stroke-width="0.7" />
<line x1="120.5" y1="656.6" x2="120.5" y2="744.6" stroke="#6f5a40" stroke-width="0.7" />
<line x1="125.7" y1="656.6" x2="125.7" y2="744.6" stroke="#6f5a40" stroke-width="0.7" />
<path d="M62.2,659 q6,-3 12,0 t12,0 t12,0 t17.1,0 L115.3,709.6 L62.2,709.6 Z" fill="#f1eee7" stroke="#8d8170" stroke-width="0.6"/>
<rect x="62.2" y="709.6" width="53.1" height="35.0" fill="url(#wd2)" stroke="#6f5a40" stroke-width="0.7" />
<polygon points="47.6,744.6 130.3,744.6 122.0,750.0 60.0,750.0" fill="#2e2a25" />
<polygon points="33.7,812.0 71.1,780.4 71.1,812.0" fill="#6f6f6f" />
<defs><linearGradient id="plg" x1="0" y1="0" x2="1" y2="1"><stop offset="0" stop-color="#9a9a98"/><stop offset="1" stop-color="#c9c7c2"/></linearGradient></defs>
<polygon points="106.9,771.8 127.2,771.8 190.0,812.0 106.9,812.0" fill="url(#plg)" />
<rect x="71.1" y="745.3" width="35.8" height="66.6" fill="#a3a3a3" stroke="#5a5a5a" stroke-width="0.8" />
<rect x="82.8" y="800.8" width="11.7" height="11.1" fill="#6e6e6e" stroke="#444" stroke-width="0.7" />
<rect x="82.8" y="733.6" width="11.7" height="22.8" fill="url(#wh)" stroke="#3d2f20" stroke-width="1" />
<rect x="33.7" y="812.0" width="156.3" height="9.2" fill="#eceae4" stroke="#7a7a78" stroke-width="0.8" />
<defs><linearGradient id="hrs" x1="0" y1="0" x2="0.2" y2="1"><stop offset="0" stop-color="#e6d5b8"/><stop offset="1" stop-color="#dcc7a3"/></linearGradient></defs>
<path d="M320.2,772.4 Q419.5,787 519.3,821.5 L320.2,821.5 Z" fill="url(#hrs)" stroke="#6f5a40" stroke-width="0.8"/>
<path d="M326,816 L515,816" fill="none" stroke="#8a7050" stroke-width="0.7" stroke-dasharray="1.5,1.5"/>
<path d="M320.2,770 Q420,757.8 520,818.5 L519.3,821.5 Q419.5,787 320.2,772.4 Z" fill="#cfb690" stroke="#6f5a40" stroke-width="0.6"/>
<defs><linearGradient id="hgap" x1="0" y1="0" x2="0" y2="1"><stop offset="0" stop-color="#e9dcc5"/><stop offset="0.55" stop-color="#cdb898"/><stop offset="1" stop-color="#8a7257"/></linearGradient></defs>
<path d="M359.6,706.1 Q430,703 490,736.6 L527.6,805.4 Q423.8,739.2 320.2,756.3 Z" fill="url(#hgap)"/>
<defs><linearGradient id="slg" x1="0" y1="0" x2="1" y2="0"><stop offset="0" stop-color="#5e4a35"/><stop offset="0.22" stop-color="#8f7656"/><stop offset="0.55" stop-color="#b49b78"/><stop offset="1" stop-color="#967c5c"/></linearGradient></defs>
<path d="M361.7,706.0 Q368.2,703.4 374.6,705.9 L342.5,753.6 L323.3,755.8 Z" fill="url(#slg)" stroke="#4d3b28" stroke-width="0.5"/>
<path d="M379.1,706.0 Q385.4,703.5 391.8,706.6 L368.4,752.9 L349.2,753.1 Z" fill="url(#slg)" stroke="#4d3b28" stroke-width="0.5"/>
<path d="M396.2,707.0 Q402.4,704.5 408.6,708.6 L394.3,754.7 L375.1,753.1 Z" fill="url(#slg)" stroke="#4d3b28" stroke-width="0.5"/>
<path d="M412.9,709.3 Q419.0,706.8 425.1,711.7 L420.2,759.2 L401.0,755.6 Z" fill="url(#slg)" stroke="#4d3b28" stroke-width="0.5"/>
<path d="M429.4,712.6 Q435.3,710.1 441.3,715.9 L446.1,766.3 L427.0,760.8 Z" fill="url(#slg)" stroke="#4d3b28" stroke-width="0.5"/>
<path d="M445.5,717.2 Q451.3,714.7 457.2,721.3 L472.1,775.9 L452.9,768.5 Z" fill="url(#slg)" stroke="#4d3b28" stroke-width="0.5"/>
<path d="M461.2,722.8 Q467.0,720.3 472.7,727.8 L498.0,788.2 L478.8,778.9 Z" fill="url(#slg)" stroke="#4d3b28" stroke-width="0.5"/>
<path d="M476.7,729.7 Q482.3,727.2 487.9,735.4 L524.0,803.1 L504.8,791.8 Z" fill="url(#slg)" stroke="#4d3b28" stroke-width="0.5"/>
<path d="M320.2,756.3 Q423.8,739.2 527.6,805.4 L520,818.5 Q420,757.8 320.2,770 Z" fill="#b89a72" stroke="#5e4b35" stroke-width="0.8" fill-opacity="0.92"/>
<line x1="346.1" y1="753.3" x2="345.2" y2="768.1" stroke="#7a6246" stroke-width="0.8" />
<line x1="372.0" y1="753.0" x2="370.1" y2="768.5" stroke="#7a6246" stroke-width="0.8" />
<line x1="397.9" y1="755.2" x2="395.1" y2="771.1" stroke="#7a6246" stroke-width="0.8" />
<line x1="423.9" y1="760.0" x2="420.1" y2="776.0" stroke="#7a6246" stroke-width="0.8" />
<line x1="449.8" y1="767.5" x2="445.0" y2="783.2" stroke="#7a6246" stroke-width="0.8" />
<line x1="475.7" y1="777.5" x2="470.0" y2="792.7" stroke="#7a6246" stroke-width="0.8" />
<line x1="501.7" y1="790.2" x2="495.0" y2="804.5" stroke="#7a6246" stroke-width="0.8" />
<line x1="527.6" y1="805.4" x2="520.0" y2="818.5" stroke="#7a6246" stroke-width="0.8" />
<line x1="337.2" y1="768.5" x2="337.1" y2="775.0" stroke="#9a8060" stroke-width="0.6" />
<line x1="362.1" y1="768.1" x2="361.9" y2="779.4" stroke="#9a8060" stroke-width="0.6" />
<line x1="387.1" y1="770.0" x2="386.8" y2="784.4" stroke="#9a8060" stroke-width="0.6" />
<line x1="412.1" y1="774.2" x2="411.7" y2="790.0" stroke="#9a8060" stroke-width="0.6" />
<line x1="437.0" y1="780.7" x2="436.6" y2="796.3" stroke="#9a8060" stroke-width="0.6" />
<line x1="462.0" y1="789.4" x2="461.5" y2="803.2" stroke="#9a8060" stroke-width="0.6" />
<line x1="487.0" y1="800.5" x2="486.4" y2="810.7" stroke="#9a8060" stroke-width="0.6" />
<polygon points="636.6,715.1 723.2,715.1 790.2,736.0 607.3,736.0" fill="#6a5540" />
<defs><linearGradient id="bsl" x1="0" y1="0" x2="1" y2="0"><stop offset="0" stop-color="#8a7254"/><stop offset="0.35" stop-color="#bca37f"/><stop offset="0.7" stop-color="#a88e6b"/><stop offset="1" stop-color="#7d664b"/></linearGradient></defs>
<polygon points="636.6,715.1 661.5,715.1 650.0,736.0 607.3,736.0" fill="url(#bsl)" stroke="#5e4b35" stroke-width="0.5" />
<path d="M607.3,748.3 L607.3,740 Q607.3,735.4 612.3,735.4 L645.0,735.4 Q650.0,735.4 650.0,740 L650.0,748.3 Z" fill="url(#wh)" stroke="#6f5a40" stroke-width="0.7"/>
<polygon points="663.0,715.1 685.4,715.1 702.4,736.0 659.8,736.0" fill="url(#bsl)" stroke="#5e4b35" stroke-width="0.5" />
<path d="M659.8,748.3 L659.8,740 Q659.8,735.4 664.8,735.4 L697.4,735.4 Q702.4,735.4 702.4,740 L702.4,748.3 Z" fill="url(#wh)" stroke="#6f5a40" stroke-width="0.7"/>
<polygon points="687.0,715.1 706.5,715.1 753.7,736.0 711.0,736.0" fill="url(#bsl)" stroke="#5e4b35" stroke-width="0.5" />
<path d="M711.0,748.3 L711.0,740 Q711.0,735.4 716.0,735.4 L748.7,735.4 Q753.7,735.4 753.7,740 L753.7,748.3 Z" fill="url(#wh)" stroke="#6f5a40" stroke-width="0.7"/>
<polygon points="708.0,715.1 723.2,715.1 790.2,736.0 763.4,736.0" fill="url(#bsl)" stroke="#5e4b35" stroke-width="0.5" />
<path d="M763.4,748.3 L763.4,740 Q763.4,735.4 768.4,735.4 L785.2,735.4 Q790.2,735.4 790.2,740 L790.2,748.3 Z" fill="url(#wh)" stroke="#6f5a40" stroke-width="0.7"/>
<rect x="619.5" y="748.3" width="170.7" height="11.5" fill="url(#wh)" stroke="#6f5a40" stroke-width="0.8" />
<rect x="607.3" y="748.3" width="12.2" height="43.2" fill="url(#wd3)" stroke="#6f5a40" stroke-width="0.8" />
<rect x="619.5" y="759.8" width="17.1" height="31.7" fill="url(#wd3)" stroke="#6f5a40" stroke-width="0.6" />
<polygon points="650.0,736.0 661.0,715.0 665.0,715.0 636.6,791.5 627.0,791.5" fill="#4a3826" opacity="0.6"/>
<polygon points="619.5,789.8 790.2,789.8 790.2,822.0 635.4,822.0 619.5,797.6" fill="url(#wh)" stroke="#6f5a40" stroke-width="0.8" />
<circle cx="642.7" cy="804.4" r="3.7" fill="#7d6040"/><circle cx="731.7" cy="804.4" r="3.7" fill="#7d6040"/>
<line x1="630.0" y1="738.0" x2="630.0" y2="757.0" stroke="#6b5840" stroke-width="0.8" />
<line x1="676.0" y1="738.0" x2="676.0" y2="757.0" stroke="#6b5840" stroke-width="0.8" />
<line x1="728.0" y1="738.0" x2="728.0" y2="757.0" stroke="#6b5840" stroke-width="0.8" />
<text transform="translate(82,26.9) scale(1,1.09)" class="t">Угловой элемент</text>
<text transform="translate(82,46.9) scale(1,1.09)" class="t">соеденение&#160; в глубокий</text>
<text transform="translate(82,66.9) scale(1,1.09)" class="t">шпунт и гребень</text>
<text transform="translate(355,26.9) scale(1,1.09)" class="t">Стеновые элементы</text>
<text transform="translate(355,46.9) scale(1,1.09)" class="t">соеденение&#160; в глубокий</text>
<text transform="translate(355,66.9) scale(1,1.09)" class="t">шпунт и гребень</text>
<text transform="translate(589,26.9) scale(1,1.09)" class="t">Соеденение стены</text>
<text transform="translate(589,46.9) scale(1,1.09)" class="t">с потолком в глубокий</text>
<text transform="translate(589,66.9) scale(1,1.09)" class="t">шпунт и гребень</text>
<text transform="translate(82,560.2) scale(1,1.09)" class="t">Дверная рама без</text>
<text transform="translate(82,580.2) scale(1,1.09)" class="t">перекосов</text>
<text transform="translate(82,855.9) scale(1,1.09)" class="t">Цоколь сауны, со</text>
<text transform="translate(82,875.9) scale(1,1.09)" class="t">специальный пропиткой.</text>
<text transform="translate(355.8,861.0) scale(1,1.09)" class="t">Подголовник склеен и</text>
<text transform="translate(355.8,881.0) scale(1,1.09)" class="t">усилен винтами.</text>
<text transform="translate(589,847.1) scale(1,1.09)" class="t">Накладная планка</text>
<text transform="translate(589,867.3) scale(1,1.09)" class="t">приклеена и усилена</text>
<text transform="translate(589,887.5) scale(1,1.09)" class="t">винтами</text>
<line x1="251.5" y1="367.6" x2="97.3" y2="254.4" stroke="#2a5ccc" stroke-width="4.2"/>
<polygon points="69.1,233.7 104.4,248.1 93.5,263.1" fill="#2a5ccc" />
<line x1="469.5" y1="323.6" x2="469.3" y2="279.6" stroke="#2a5ccc" stroke-width="4.2"/>
<polygon points="469.2,244.6 478.6,281.6 460.1,281.6" fill="#2a5ccc" />
<line x1="661.5" y1="334.0" x2="759.6" y2="265.6" stroke="#2a5ccc" stroke-width="4.2"/>
<polygon points="788.3,245.6 763.2,274.3 752.7,259.2" fill="#2a5ccc" />
<line x1="379.0" y1="395.6" x2="187.9" y2="452.6" stroke="#2a5ccc" stroke-width="4.2"/>
<polygon points="154.4,462.6 187.2,443.2 192.5,460.9" fill="#2a5ccc" />
<line x1="258.8" y1="617.0" x2="118.4" y2="767.1" stroke="#2a5ccc" stroke-width="4.2"/>
<polygon points="94.5,792.7 113.0,759.4 126.5,772.0" fill="#2a5ccc" />
<line x1="400.7" y1="475.6" x2="446.3" y2="693.3" stroke="#2a5ccc" stroke-width="4.2"/>
<polygon points="453.5,727.6 436.9,693.3 455.0,689.5" fill="#2a5ccc" />
<line x1="478.0" y1="533.6" x2="633.1" y2="703.0" stroke="#2a5ccc" stroke-width="4.2"/>
<polygon points="656.7,728.8 624.9,707.8 638.5,695.3" fill="#2a5ccc" />
</svg></body></html>
